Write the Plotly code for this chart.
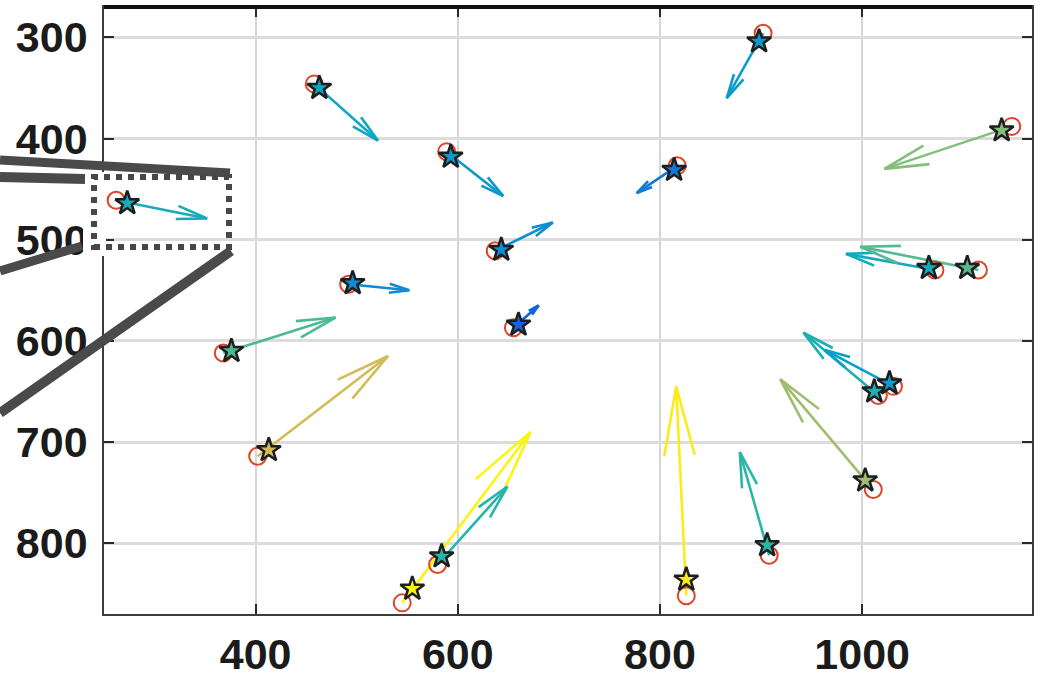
import numpy as np
import plotly.graph_objects as go
from plotly.colors import sample_colorscale

# ground-truth positions (red circles)
gt_x = [262, 458, 902, 1148, 589, 817, 637, 492, 655, 1072,
        1115, 368, 402, 545, 580, 826, 908, 1011, 1016, 1031]
gt_y = [461, 346, 296, 388, 413, 427, 511, 544, 587, 530,
        530, 612, 714, 859, 821, 852, 812, 747, 654, 645]

# estimated positions (stars)
est_x = [273, 463, 898, 1138, 593, 814, 643, 496, 660, 1066,
         1104, 376, 413, 555, 584, 826, 906, 1003, 1012, 1027]
est_y = [464, 350, 304, 392, 418, 431, 510, 543, 584, 528,
         528, 610, 708, 845, 813, 836, 802, 738, 650, 642]

# displacement vectors (quiver, drawn from the circles)
vec_u = [90, 63, -36, -126, 56, -40, 57, 60, 25, -88,
         -117, 111, 129, 127, 69, -10, -29, -92, -74, -68]
vec_v = [18, 56, 64, 42, 44, 27, -28, 6, -22, -16,
         -23, -35, -99, -169, -77, -207, -102, -109, -62, -36]

x_ticks = [400, 600, 800, 1000]
y_ticks = [300, 400, 500, 600, 700, 800]

# parula-like colormap
parula = [[0.0, 'rgb(53,42,135)'], [0.125, 'rgb(15,92,221)'], [0.25, 'rgb(20,129,214)'],
          [0.375, 'rgb(6,164,202)'], [0.5, 'rgb(46,183,164)'], [0.625, 'rgb(135,191,119)'],
          [0.75, 'rgb(209,187,89)'], [0.875, 'rgb(254,200,50)'], [1.0, 'rgb(249,251,14)']]

mag = np.hypot(vec_u, vec_v)
cvals = np.clip(mag / 215.0, 0, 1)
colors = sample_colorscale(parula, list(cvals))

alpha, beta = 0.33, 0.22

fig = go.Figure()

# arrows (shaft + open head like matlab quiver)
for x, y, u, v, c in zip(gt_x, gt_y, vec_u, vec_v, colors):
    tx, ty = x + u, y + v
    b1 = (tx - alpha * (u + beta * v), ty - alpha * (v - beta * u))
    b2 = (tx - alpha * (u - beta * v), ty - alpha * (v + beta * u))
    fig.add_trace(go.Scatter(
        x=[x, tx, None, b1[0], tx, b2[0]],
        y=[y, ty, None, b1[1], ty, b2[1]],
        mode='lines', line=dict(color=c, width=2.6),
        hoverinfo='skip', showlegend=False))

fig.add_trace(go.Scatter(
    x=gt_x, y=gt_y, mode='markers', showlegend=False,
    marker=dict(symbol='circle-open', size=17, color='#dd4526',
                line=dict(width=2, color='#dd4526'))))

fig.add_trace(go.Scatter(
    x=est_x, y=est_y, mode='markers', showlegend=False,
    marker=dict(symbol='star', size=18, color=colors,
                line=dict(width=2.5, color='#1e1e1e'))))

# plot area in pixels: left 104, right 1032, top 7, bottom 614
W, H = 1040, 677
L, R, T, B = 104, 8, 7, 63
pw, ph = W - L - R, H - T - B


def px(xp):
    return (xp - L) / pw


def py(yp):
    return (H - B - yp) / ph


shapes = []
# white patches of the inset box
shapes.append(dict(type='rect', xref='paper', yref='paper', layer='above',
                   x0=px(83), x1=px(106), y0=py(256), y1=py(172),
                   fillcolor='white', line=dict(width=0)))
shapes.append(dict(type='rect', xref='paper', yref='paper', layer='between',
                   x0=px(104), x1=px(237), y0=py(256), y1=py(168),
                   fillcolor='white', line=dict(width=0)))
# thick connector lines
for (xa, ya, xb, yb, w) in [(0, 160, 230, 173, 9), (0, 177, 85, 179, 10),
                            (0, 271, 82, 246, 9), (231, 251, 0, 413, 10)]:
    shapes.append(dict(type='line', xref='paper', yref='paper', layer='above',
                       x0=px(xa), y0=py(ya), x1=px(xb), y1=py(yb),
                       line=dict(color='#4a4a4a', width=w)))
# dotted inset box
shapes.append(dict(type='rect', xref='paper', yref='paper', layer='above',
                   x0=px(94), x1=px(229), y0=py(247), y1=py(177),
                   line=dict(color='#474747', width=6, dash='dot')))
# heavy top border
shapes.append(dict(type='line', xref='paper', yref='paper', layer='above',
                   x0=0, x1=1, y0=1, y1=1, line=dict(color='#111111', width=4)))

axis_common = dict(showline=True, linecolor='#3c3c3c', linewidth=1.6, mirror='ticks',
                   ticks='inside', ticklen=10, tickwidth=1.6, tickcolor='#2a2a2a',
                   zeroline=False, automargin=False,
                   tickfont=dict(family='Liberation Sans', size=43, color='#1b1b1b',
                                 weight='bold'))

fig.update_layout(
    width=W, height=H,
    margin=dict(l=L, r=R, t=T, b=B),
    paper_bgcolor='white', plot_bgcolor='white',
    showlegend=False,
    shapes=shapes,
    xaxis=dict(range=[250, 1168], tickvals=x_ticks, showgrid=True,
               gridcolor='#d6d6d6', gridwidth=1.5, ticklabelstandoff=2, **axis_common),
    yaxis=dict(range=[870, 270], tickvals=y_ticks, showgrid=True,
               gridcolor='#dcdcdc', gridwidth=3, ticklabelstandoff=6, **axis_common),
)

fig.write_html("out.html", config={'displayModeBar': False},
               post_script="document.body.style.margin='0';document.body.style.overflow='hidden';")
